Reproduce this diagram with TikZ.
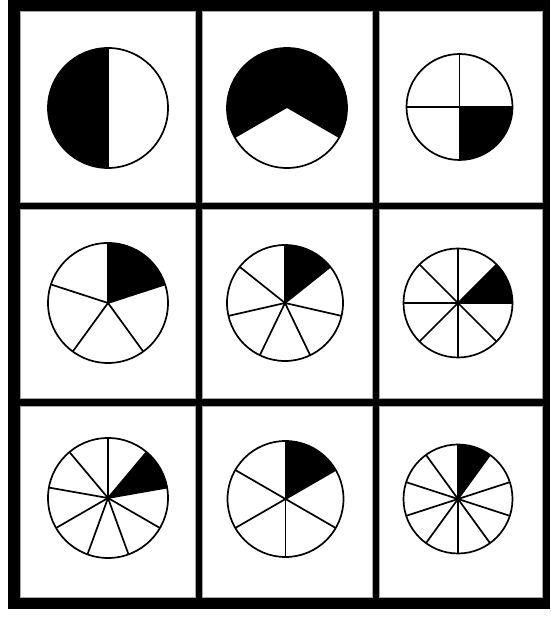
\documentclass[tikz,border=0pt]{standalone}
\usetikzlibrary{calc}
\tikzset{
  cellbox/.style={fill=white, draw=black!35, line width=0.8pt},
  pieline/.style={line width=1.7pt, black},
}
\newcommand\mypie[6]{% #1 center x, #2 center y, #3 radius, #4 sectors (0 = none), #5 black start, #6 black end
  \coordinate (pc) at (#1,#2);
  \fill[black] (pc) -- ($(pc)+(#5:#3)$) arc[start angle=#5, end angle=#6, radius=#3] -- cycle;
  \ifnum#4>0
    \foreach \k in {1,...,#4}{
      \pgfmathsetmacro\ang{90+(\k-1)*360/#4}
      \draw[pieline] (pc) -- ($(pc)+(\ang:#3)$);
    }
  \fi
  \draw[pieline] (pc) circle[radius=#3];
}
\begin{document}
\begin{tikzpicture}[x=1pt,y=1pt]
\useasboundingbox (0,0) rectangle (550,617);
\fill[white] (0,0) rectangle (550,617);
\fill[black] (8,8) rectangle (550,617);
% cells: columns 20-195, 202-372, 379-542 ; rows 415-606, 219-408, 20-211
\foreach \xa/\xb in {20/195, 202/372, 379/542}{
  \foreach \ya/\yb in {415/606, 219/408, 20/211}{
    \draw[cellbox] (\xa,\ya) rectangle (\xb,\yb);
  }
}
% row 1
\mypie{108}{509}{60}{2}{90}{270}
\mypie{287}{509}{60}{0}{-30}{210}
\mypie{459.5}{510}{53}{4}{-90}{0}
% row 2
\mypie{108}{314}{60}{5}{18}{90}
\mypie{285}{314}{58}{7}{38.571}{90}
\mypie{458}{314}{54.5}{8}{0}{45}
% row 3
\mypie{108}{119}{60}{9}{10}{50}
\mypie{285.5}{118}{58}{6}{30}{90}
\mypie{458}{118}{54.5}{10}{54}{90}
\end{tikzpicture}
\end{document}
